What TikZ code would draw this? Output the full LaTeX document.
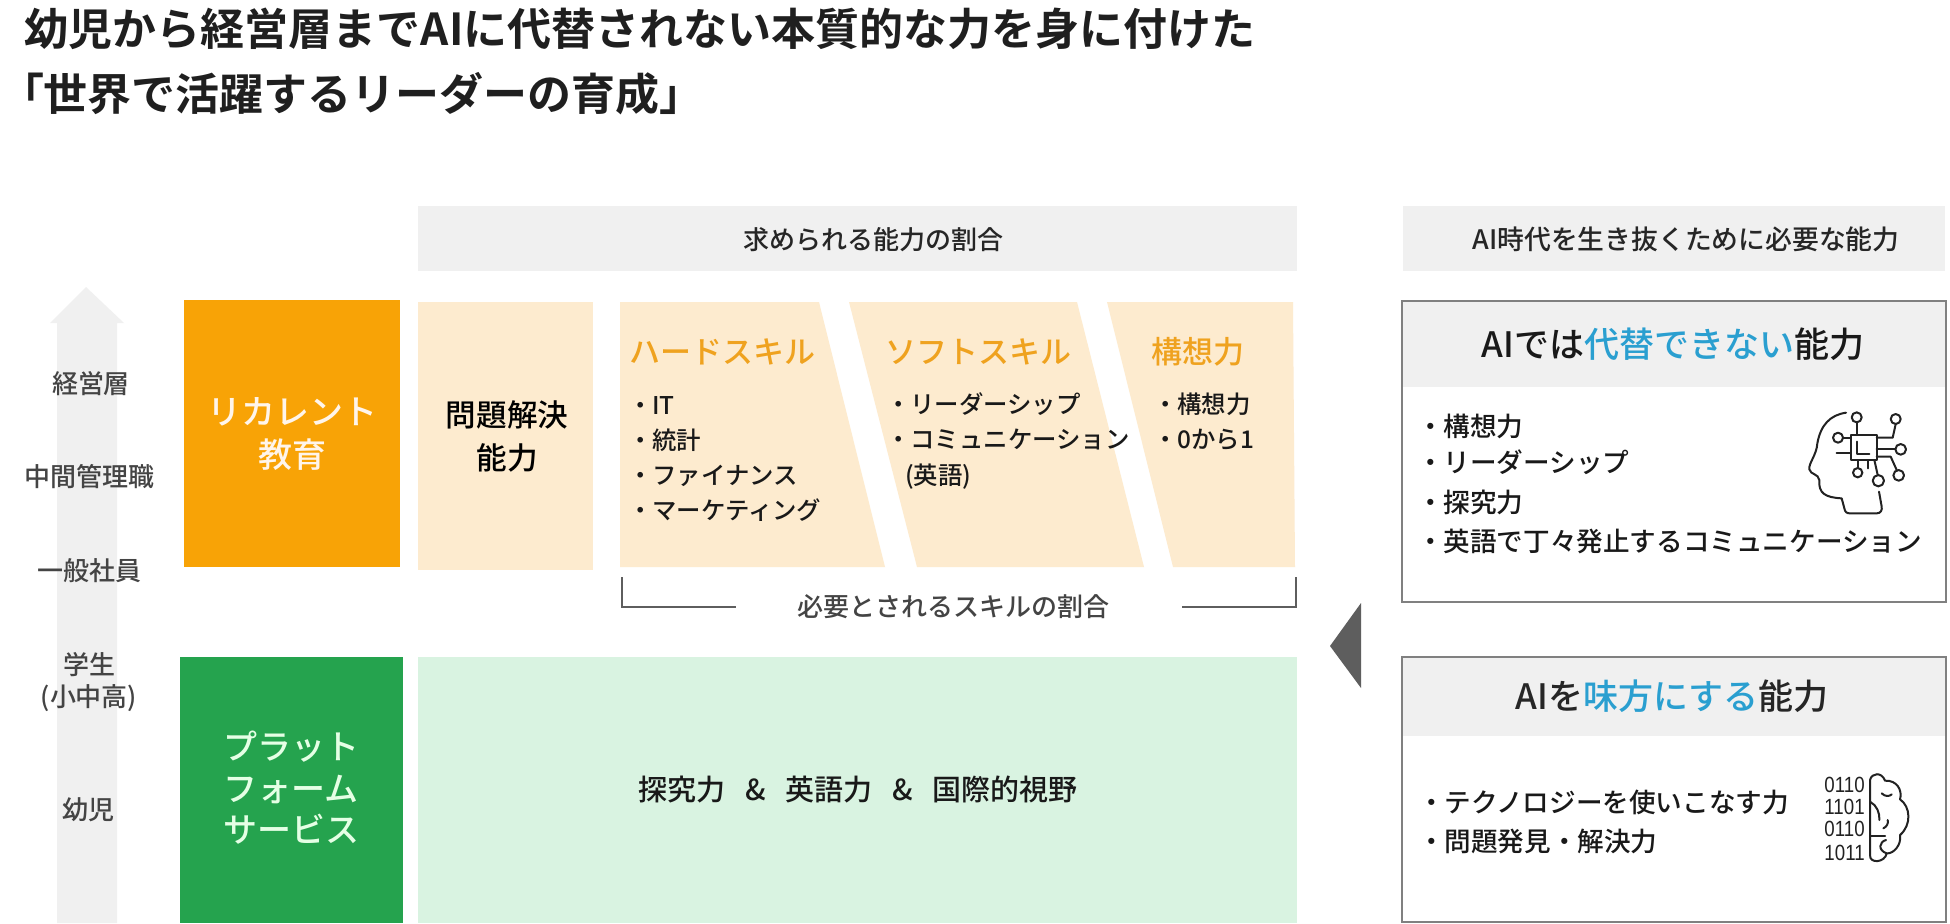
\documentclass[tikz,border=0pt]{standalone}
\usepackage{fontspec}
\setmainfont{Noto Sans CJK JP}
\newfontfamily\mdf{Noto Sans CJK JP Medium}
\newfontfamily\bdf{Noto Sans CJK JP Bold}
\newfontfamily\lat{Liberation Sans}
\newcommand\fs[1]{\fontsize{#1}{#1}\selectfont}
\definecolor{hdrgray}{HTML}{F0F0F0}
\definecolor{orangeA}{HTML}{F8A306}
\definecolor{orangeT}{HTML}{EFA21F}
\definecolor{beige}{HTML}{FDEBCF}
\definecolor{greenA}{HTML}{25A34E}
\definecolor{greenB}{HTML}{D9F3E1}
\definecolor{bluet}{HTML}{2A9FD0}
\definecolor{edge}{HTML}{808080}
\definecolor{darkg}{HTML}{444444}
\definecolor{tri}{HTML}{5E5E5E}
\definecolor{iconk}{HTML}{222222}
\tikzset{
  x=.5pt,y=-.5pt,
  txt/.style={inner sep=0pt,outer sep=0pt,text height=.96em,text depth=.04em,font=\mdf},
  lab/.style={txt,text=darkg,font=\mdf\fs{13}},
  heading/.style={txt,font=\mdf\fs{13},text=black!85},
  big/.style={txt,font=\mdf\fs{17}},
  bul/.style={txt,anchor=west,font=\mdf\fs{12.2},text=black!90},
  bulb/.style={txt,anchor=west,font=\mdf\fs{13.3},text=black!90},
  skill/.style={txt,font=\mdf\fs{15.5},text=orangeT},
  ttl/.style={txt,anchor=west,font=\bdf\fs{22},text=black!88},
  iconline/.style={line width=1pt,draw=iconk,line cap=round,line join=round},
  digits/.style={inner sep=0pt,anchor=east,xscale=.85,font=\lat\fs{11},text=iconk},
}
\begin{document}
\begin{tikzpicture}
\useasboundingbox (0,0) rectangle (1950,923);
\fill[white] (0,0) rectangle (1950,923);
% title
\node[ttl] (t1) at (25,36) {幼児から経営層までAIに代替されない本質的な力を身に付けた};
\node[ttl] (t2) at (0,101) {「世界で活躍するリーダーの育成」};
% grey level arrow
\fill[hdrgray] (57,923) -- (57,323) -- (50,323) -- (86,287) -- (124,323) -- (117,323) -- (117,923) -- cycle;
\node[lab] (l1) at (91,384) {経営層};
\node[lab] (l2) at (90,477) {中間管理職};
\node[lab] (l3) at (90,571) {一般社員};
\node[lab] (l4) at (89,665) {学生};
\node[lab] (l5) at (89,697) {(小中高)};
\node[lab] (l6) at (88,810) {幼児};
% header bars
\fill[hdrgray] (418,206) rectangle (1297,271);
\node[heading] (h1) at (873,240) {求められる能力の割合};
\fill[hdrgray] (1403,206) rectangle (1945,271);
\node[txt,font=\mdf\fs{13.4},text=black!85] (h2) at (1686,240) {AI時代を生き抜くために必要な能力};
% left blocks
\fill[orangeA] (184,300) rectangle (400,567);
\node[big,text=white!92!orange] (o1) at (292,415) {リカレント};
\node[big,text=white!92!orange] (o2) at (292,458) {教育};
\fill[greenA] (180,657) rectangle (403,923);
\node[big,text=white!90!green] (g1) at (291,750) {プラット};
\node[big,text=white!90!green] (g2) at (291,792) {フォーム};
\node[big,text=white!90!green] (g3) at (291,833) {サービス};
% beige
\fill[beige] (418,302) rectangle (593,570);
\node[txt,font=\mdf\fs{15.3},text=black] (p1) at (507,417) {問題解決};
\node[txt,font=\mdf\fs{15.3},text=black] (p2) at (507,460) {能力};
\fill[beige] (620,302) -- (819,302) -- (885,567) -- (620,567) -- cycle;
\fill[beige] (849,302) -- (1077,302) -- (1144,567) -- (917,567) -- cycle;
\fill[beige] (1107,302) -- (1293,302) -- (1295,567) -- (1173,567) -- cycle;
\node[skill] (s1) at (722,354) {ハードスキル};
\node[skill] (s2) at (978,354) {ソフトスキル};
\node[skill] (s3) at (1198,354) {構想力};
\node[bul] (a1) at (628,405) {・IT};
\node[bul] (a2) at (628,440) {・統計};
\node[bul] (a3) at (628,475) {・ファイナンス};
\node[bul] (a4) at (628,510) {・マーケティング};
\node[bul] (b1) at (886,404) {・リーダーシップ};
\node[bul] (b2) at (886,439) {・コミュニケーション};
\node[bul] (b3) at (905,475) {(英語)};
\node[bul] (c1) at (1153,404) {・構想力};
\node[bul] (c2) at (1153,439) {・0から1};
% bracket
\draw[line width=.9pt,draw=tri] (622,577) -- (622,607) -- (736,607);
\draw[line width=.9pt,draw=tri] (1182,607) -- (1296,607) -- (1296,577);
\node[lab] (sk) at (953,607) {必要とされるスキルの割合};
% green band
\fill[greenB] (418,657) rectangle (1297,923);
\node[txt,font=\mdf\fs{14.5},text=black!90] (gb) at (858,791) {探究力\hspace{10pt}\&\hspace{10pt}英語力\hspace{10pt}\&\hspace{10pt}国際的視野};
% triangle
\fill[tri] (1330,646) -- (1361,603) -- (1361,688) -- cycle;
% right box 1
\fill[hdrgray] (1402,301) rectangle (1946,387);
\draw[edge,line width=1pt] (1402,301) rectangle (1946,602);
\node[txt,font=\mdf\fs{17.5},text=black!90] (r1) at (1673,348) {AIでは\textcolor{bluet}{代替できない}能力};
\node[bulb] (d1) at (1417,427) {・構想力};
\node[bulb] (d2) at (1417,463) {・リーダーシップ};
\node[bulb] (d3) at (1417,503) {・探究力};
\node[bulb] (d4) at (1417,542) {・英語で丁々発止するコミュニケーション};
% head icon (drawn in the crop's coordinates)
\begin{scope}[shift={(1780,390)},x=.1667pt,y=-.1667pt]
\draw[iconline] (198,68) .. controls (150,75) and (122,105) .. (112,160)
  .. controls (110,195) and (85,220) .. (88,238)
  .. controls (92,255) and (115,250) .. (118,270)
  .. controls (115,310) and (135,322) .. (185,325)
  -- (193,355) .. controls (195,366) and (200,370) .. (210,370) -- (290,370)
  .. controls (302,370) and (307,360) .. (305,350) -- (297,305);
\draw[iconline] (212,135) rectangle (290,210);
\draw[iconline] (232,155) -- (232,192) -- (268,192);
\foreach \cx/\cy/\r in {230/82/15,347/87/15,174/143/15,362/178/16,233/248/14,295/272/17,356/256/16}
  \draw[iconline] (\cx,\cy) circle[radius=\r];
\draw[iconline] (230,97) -- (230,135);
\draw[iconline] (347,102) -- (338,143) -- (290,143);
\draw[iconline] (189,143) -- (212,143);
\draw[iconline] (170,188) -- (212,188);
\draw[iconline] (290,178) -- (346,178);
\draw[iconline] (290,200) -- (332,200) -- (350,240);
\draw[iconline] (233,210) -- (233,234);
\draw[iconline] (265,210) -- (265,235);
\draw[iconline] (283,210) -- (293,255);
\end{scope}
% right box 2
\fill[hdrgray] (1402,657) rectangle (1946,736);
\draw[edge,line width=1pt] (1402,657) rectangle (1946,922);
\node[txt,font=\mdf\fs{17.5},text=black!85] (r2) at (1672,700) {AIを\textcolor{bluet}{味方にする}能力};
\node[bulb] (e1) at (1418,803) {・テクノロジーを使いこなす力};
\node[bulb] (e2) at (1418,842) {・問題発見・解決力};
% binary brain icon
\node[digits] (n1) at (1865,785) {0110};
\node[digits] (n2) at (1865,807) {1101};
\node[digits] (n3) at (1865,829) {0110};
\node[digits] (n4) at (1865,853) {1011};
\begin{scope}[shift={(1790,760)},x=.1667pt,y=-.1667pt]
\draw[iconline] (240,285) -- (240,60)
  .. controls (245,38) and (275,35) .. (285,62)
  .. controls (320,60) and (338,90) .. (330,118)
  .. controls (362,140) and (365,195) .. (330,225)
  .. controls (335,255) and (310,282) .. (290,280)
  .. controls (285,308) and (238,312) .. (240,285);
\draw[iconline] (275,100) .. controls (285,110) and (298,110) .. (305,103);
\draw[iconline] (240,125) .. controls (260,135) and (270,160) .. (268,180);
\draw[iconline] (293,180) .. controls (296,190) and (290,200) .. (280,205);
\draw[iconline] (240,228) -- (285,228);
\draw[iconline] (288,240) .. controls (268,245) and (262,270) .. (290,280);
\end{scope}
\end{tikzpicture}
\end{document}
